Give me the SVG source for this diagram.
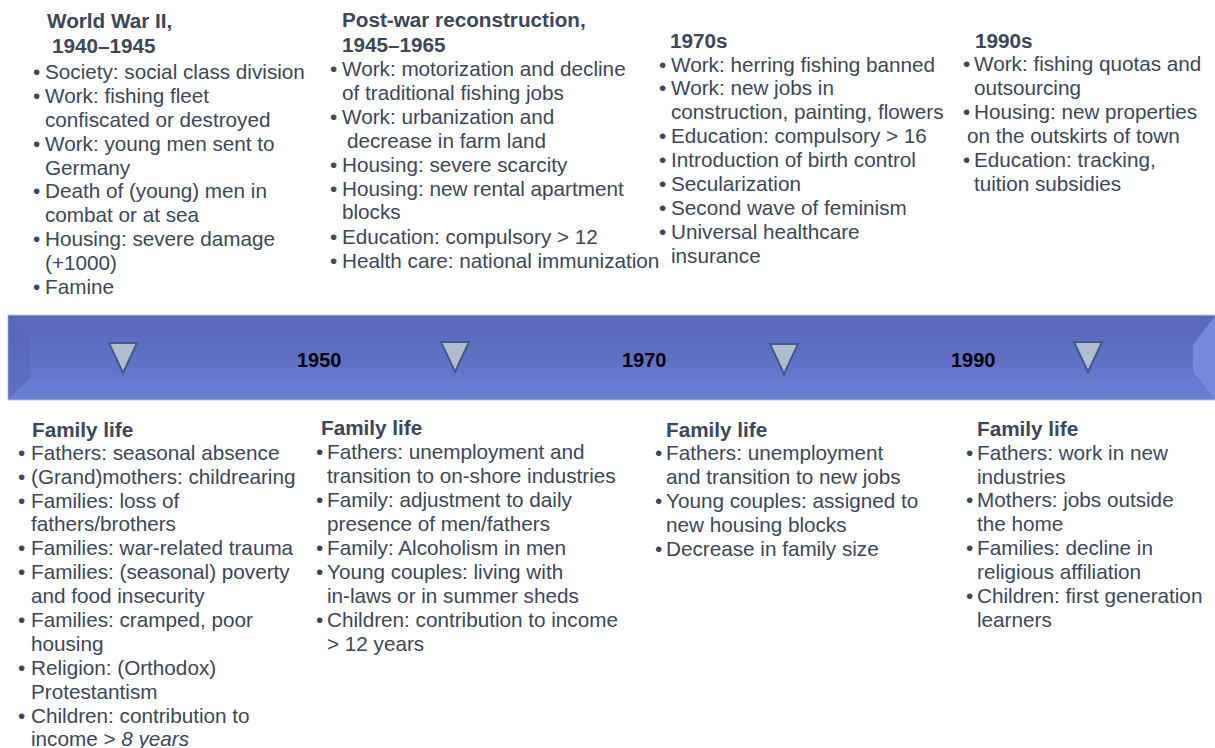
<svg xmlns="http://www.w3.org/2000/svg" width="1215" height="748" viewBox="0 0 1215 748">
<defs>
<linearGradient id="barg" x1="0" y1="0" x2="0" y2="1">
<stop offset="0" stop-color="#5a67ba"/>
<stop offset="0.5" stop-color="#5f70c5"/>
<stop offset="1" stop-color="#6a80d3"/>
</linearGradient>
<style>
text{font-family:"Liberation Sans",Arial,sans-serif;font-size:20.7px;fill:#3b475b}
.b{font-weight:bold}
.yr{font-weight:bold;font-size:20px;fill:#000}
.tri{fill:#b3bccd;stroke:#3d5c8a;stroke-width:2;stroke-linejoin:miter}
</style>
</defs>
<rect width="1215" height="748" fill="#fff"/>
<g id="timeline">
<rect x="8" y="315" width="1207" height="85" fill="url(#barg)" stroke="#c9ccd8" stroke-width="1"/>
<polygon points="8,315 30,337 30,378 8,400" fill="#5663b3" opacity="0.5"/>
<polygon points="8,400 30,378 1193,378 1215,400" fill="#6c82d6" opacity="0.25"/>
<polygon points="1215,316 1193,345 1193,372 1215,399" fill="#7688db"/>
<text class="yr" x="297" y="367">1950</text>
<text class="yr" x="622" y="367">1970</text>
<text class="yr" x="951" y="367">1990</text>
</g>
<g id="markers">
<polygon class="tri" points="109,343 137,343 123,373"/>
<polygon class="tri" points="441,342 469,342 455,372"/>
<polygon class="tri" points="770,344 798,344 784,374"/>
<polygon class="tri" points="1074,342 1102,342 1088,372"/>
</g>
<g id="ww2">
<text class="b" x="47" y="28">World War II,</text>
<text class="b" x="52" y="53">1940–1945</text>
<text x="33" y="79">•</text><text x="45" y="79">Society: social class division</text>
<text x="33" y="103">•</text><text x="45" y="103">Work: fishing fleet</text>
<text x="45" y="127">confiscated or destroyed</text>
<text x="33" y="151">•</text><text x="45" y="151">Work: young men sent to</text>
<text x="45" y="175">Germany</text>
<text x="33" y="198">•</text><text x="45" y="198">Death of (young) men in</text>
<text x="45" y="222">combat or at sea</text>
<text x="33" y="246">•</text><text x="45" y="246">Housing: severe damage</text>
<text x="45" y="270">(+1000)</text>
<text x="33" y="294">•</text><text x="45" y="294">Famine</text>
</g>
<g id="postwar">
<text class="b" x="342" y="27">Post-war reconstruction,</text>
<text class="b" x="342" y="52">1945–1965</text>
<text x="330" y="76">•</text><text x="342" y="76">Work: motorization and decline</text>
<text x="342" y="100">of traditional fishing jobs</text>
<text x="330" y="124">•</text><text x="342" y="124">Work: urbanization and</text>
<text x="347" y="148">decrease in farm land</text>
<text x="330" y="172">•</text><text x="342" y="172">Housing: severe scarcity</text>
<text x="330" y="196">•</text><text x="342" y="196">Housing: new rental apartment</text>
<text x="342" y="219">blocks</text>
<text x="330" y="244">•</text><text x="342" y="244">Education: compulsory &gt; 12</text>
<text x="330" y="268">•</text><text x="342" y="268">Health care: national immunization</text>
</g>
<g id="s1970">
<text class="b" x="670" y="48">1970s</text>
<text x="659" y="72">•</text><text x="671" y="72">Work: herring fishing banned</text>
<text x="659" y="95">•</text><text x="671" y="95">Work: new jobs in</text>
<text x="671" y="119">construction, painting, flowers</text>
<text x="659" y="143">•</text><text x="671" y="143">Education: compulsory &gt; 16</text>
<text x="659" y="167">•</text><text x="671" y="167">Introduction of birth control</text>
<text x="659" y="191">•</text><text x="671" y="191">Secularization</text>
<text x="659" y="215">•</text><text x="671" y="215">Second wave of feminism</text>
<text x="659" y="239">•</text><text x="671" y="239">Universal healthcare</text>
<text x="671" y="263">insurance</text>
</g>
<g id="s1990">
<text class="b" x="975" y="48">1990s</text>
<text x="963" y="71">•</text><text x="974" y="71">Work: fishing quotas and</text>
<text x="974" y="95">outsourcing</text>
<text x="963" y="119">•</text><text x="974" y="119">Housing: new properties</text>
<text x="967" y="143">on the outskirts of town</text>
<text x="963" y="167">•</text><text x="974" y="167">Education: tracking,</text>
<text x="974" y="191">tuition subsidies</text>
</g>
<g id="family1">
<text class="b" x="32" y="437">Family life</text>
<text x="18" y="460">•</text><text x="31" y="460">Fathers: seasonal absence</text>
<text x="18" y="484">•</text><text x="31" y="484">(Grand)mothers: childrearing</text>
<text x="18" y="508">•</text><text x="31" y="508">Families: loss of</text>
<text x="31" y="531">fathers/brothers</text>
<text x="18" y="555">•</text><text x="31" y="555">Families: war-related trauma</text>
<text x="18" y="579">•</text><text x="31" y="579">Families: (seasonal) poverty</text>
<text x="31" y="603">and food insecurity</text>
<text x="18" y="627">•</text><text x="31" y="627">Families: cramped, poor</text>
<text x="31" y="651">housing</text>
<text x="18" y="675">•</text><text x="31" y="675">Religion: (Orthodox)</text>
<text x="31" y="699">Protestantism</text>
<text x="18" y="723">•</text><text x="31" y="723">Children: contribution to</text>
<text x="31" y="746">income &gt; <tspan font-style="italic">8 years</tspan></text>
</g>
<g id="family2">
<text class="b" x="321" y="435">Family life</text>
<text x="316" y="459">•</text><text x="327" y="459">Fathers: unemployment and</text>
<text x="327" y="483">transition to on-shore industries</text>
<text x="316" y="507">•</text><text x="327" y="507">Family: adjustment to daily</text>
<text x="327" y="531">presence of men/fathers</text>
<text x="316" y="555">•</text><text x="327" y="555">Family: Alcoholism in men</text>
<text x="316" y="579">•</text><text x="327" y="579">Young couples: living with</text>
<text x="327" y="603">in-laws or in summer sheds</text>
<text x="316" y="627">•</text><text x="327" y="627">Children: contribution to income</text>
<text x="327" y="651">&gt; 12 years</text>
</g>
<g id="family3">
<text class="b" x="666" y="437">Family life</text>
<text x="655" y="460">•</text><text x="666" y="460">Fathers: unemployment</text>
<text x="666" y="484">and transition to new jobs</text>
<text x="655" y="508">•</text><text x="666" y="508">Young couples: assigned to</text>
<text x="666" y="532">new housing blocks</text>
<text x="655" y="556">•</text><text x="666" y="556">Decrease in family size</text>
</g>
<g id="family4">
<text class="b" x="977" y="436">Family life</text>
<text x="966" y="460">•</text><text x="977" y="460">Fathers: work in new</text>
<text x="977" y="484">industries</text>
<text x="966" y="507">•</text><text x="977" y="507">Mothers: jobs outside</text>
<text x="977" y="531">the home</text>
<text x="966" y="555">•</text><text x="977" y="555">Families: decline in</text>
<text x="977" y="579">religious affiliation</text>
<text x="966" y="603">•</text><text x="977" y="603">Children: first generation</text>
<text x="977" y="627">learners</text>
</g>
<g id="connectors"></g>
</svg>
